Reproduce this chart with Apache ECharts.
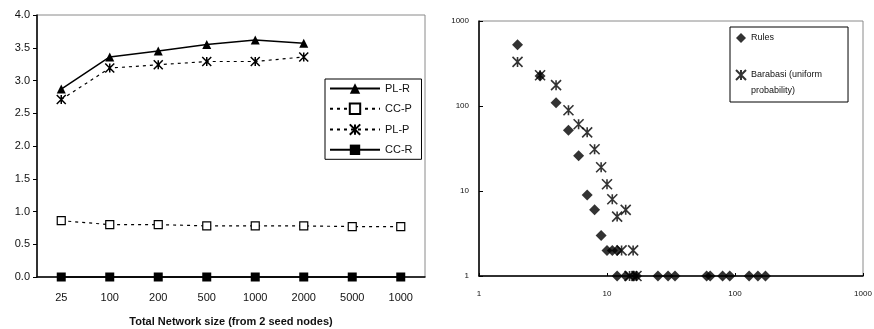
<!DOCTYPE html>
<html><head><meta charset="utf-8">
<script src="https://cdn.jsdelivr.net/npm/echarts@6/dist/echarts.min.js"></script>
<style>html,body{margin:0;padding:0;background:#fff}#c{width:874px;height:329px}</style>
</head><body><div id="c"></div>
<script>
// Left chart data
const sizeLabels = ['25','100','200','500','1000','2000','5000','1000'];
const plR = [2.87, 3.36, 3.45, 3.55, 3.62, 3.57, null, null];
const ccP = [0.86, 0.80, 0.80, 0.78, 0.78, 0.78, 0.77, 0.77];
const plP = [2.71, 3.19, 3.24, 3.29, 3.29, 3.36, null, null];
const ccR = [0, 0, 0, 0, 0, 0, 0, 0];
const yTicksLeft = [0, 4, 0.5];
// Right chart data (degree, count)
const rulesX = [2, 3, 4, 5, 6, 7, 8, 9, 10, 11, 12, 12, 14, 16, 17, 25, 30, 34, 60, 64, 80, 91, 129, 151, 173];
const rulesY = [527, 226, 109, 52, 26, 9, 6, 3, 2, 2, 2, 1, 1, 1, 1, 1, 1, 1, 1, 1, 1, 1, 1, 1, 1];
const baraX = [2, 3, 4, 5, 6, 7, 8, 9, 10, 11, 12, 14, 13, 16, 15, 17];
const baraY = [330, 230, 176, 89, 61, 49, 31, 19, 12, 8, 5, 6, 2, 2, 1, 1];
const logTicks = ['1','10','100','1000'];

const FONT = "'Liberation Sans', Arial, sans-serif";
const ASTER = 'path://M0,0L10,10M10,0L0,10M5,0L5,10';

const chart = echarts.init(document.getElementById('c'));
chart.setOption({
  animation: false,
  textStyle: {fontFamily: FONT, color: '#111'},
  grid: [
    {left: 37, top: 15, width: 388, height: 262, show: true, borderColor: '#8a8a8a', borderWidth: 1,
     containLabel: false, outerBoundsMode: 'none'},
    {left: 479, top: 21, width: 384, height: 255, show: true, borderColor: '#8a8a8a', borderWidth: 1,
     containLabel: false, outerBoundsMode: 'none'}
  ],
  xAxis: [
    {gridIndex: 0, type: 'category', data: sizeLabels, boundaryGap: true,
     axisLine: {lineStyle: {color: '#000', width: 1.5}},
     axisTick: {inside: true, length: 4, interval: 0, lineStyle: {color: '#000'}},
     axisLabel: {fontSize: 11, margin: 15, color: '#111', interval: 0},
     name: 'Total Network size (from 2 seed nodes)', nameLocation: 'middle', nameGap: 39,
     nameTextStyle: {fontSize: 11, fontWeight: 'bold', color: '#111'}},
    {gridIndex: 1, type: 'log', logBase: 10, min: 1, max: 1000,
     axisLine: {lineStyle: {color: '#000', width: 1.5}},
     axisTick: {inside: true, length: 3, lineStyle: {color: '#000'}},
     minorTick: {show: false}, splitLine: {show: false},
     axisLabel: {fontSize: 8, margin: 14, color: '#111',
       formatter: v => logTicks.includes(String(Math.round(v))) ? String(Math.round(v)) : ''}}
  ],
  yAxis: [
    {gridIndex: 0, type: 'value', min: yTicksLeft[0], max: yTicksLeft[1], interval: yTicksLeft[2],
     axisLine: {show: true, lineStyle: {color: '#000', width: 1.5}},
     axisTick: {show: true, inside: false, length: 4, lineStyle: {color: '#000'}},
     splitLine: {show: false},
     axisLabel: {fontSize: 11, margin: 7, color: '#111', formatter: v => v.toFixed(1)}},
    {gridIndex: 1, type: 'log', logBase: 10, min: 1, max: 1000,
     axisLine: {show: true, lineStyle: {color: '#000', width: 1.5}},
     axisTick: {show: true, inside: true, length: 4, lineStyle: {color: '#000'}},
     splitLine: {show: false},
     axisLabel: {fontSize: 8, margin: 10, color: '#111',
       formatter: v => logTicks.includes(String(Math.round(v))) ? String(Math.round(v)) : ''}}
  ],
  legend: [
    {data: ['PL-R','CC-P','PL-P','CC-R'], orient: 'vertical', left: 325, top: 79,
     itemWidth: 50, itemHeight: 13, itemGap: 8.5, padding: [4, 9, 4, 4],
     borderColor: '#000', borderWidth: 1, backgroundColor: '#fff',
     textStyle: {fontSize: 11, color: '#111', fontFamily: FONT}},
    {data: ['Rules', 'Barabasi (uniform probability)'],
     orient: 'vertical', left: 730, top: 27,
     itemWidth: 10, itemHeight: 10, itemGap: 5, padding: [3, 26, 3, 5],
     borderColor: '#000', borderWidth: 1, backgroundColor: '#fff',
     formatter: n => n === 'Rules' ? n : '\n' + n.replace(' probability', '\nprobability'),
     textStyle: {fontSize: 9, lineHeight: 16, color: '#111', fontFamily: FONT}}
  ],
  series: [
    {name: 'PL-R', type: 'line', xAxisIndex: 0, yAxisIndex: 0, data: plR,
     symbol: 'triangle', symbolSize: 9, lineStyle: {color: '#000', width: 1.5},
     itemStyle: {color: '#000'}},
    {name: 'CC-P', type: 'line', xAxisIndex: 0, yAxisIndex: 0, data: ccP,
     symbol: 'rect', symbolSize: 8, lineStyle: {color: '#000', width: 1.2, type: [3, 4]},
     itemStyle: {color: '#fff', borderColor: '#000', borderWidth: 1.2}},
    {name: 'PL-P', type: 'line', xAxisIndex: 0, yAxisIndex: 0, data: plP,
     symbol: ASTER, symbolSize: 9, lineStyle: {color: '#000', width: 1.2, type: [3, 4]},
     itemStyle: {color: '#fff', borderColor: '#000', borderWidth: 1.5}},
    {name: 'CC-R', type: 'line', xAxisIndex: 0, yAxisIndex: 0, data: ccR,
     symbol: 'rect', symbolSize: 9, lineStyle: {color: '#000', width: 1.5},
     itemStyle: {color: '#000'}, clip: false, z: 5},
    {name: 'Rules', type: 'scatter', xAxisIndex: 1, yAxisIndex: 1,
     data: rulesX.map((x, i) => [x, rulesY[i]]),
     symbol: 'diamond', symbolSize: 11, itemStyle: {color: '#000'}, clip: false},
    {name: 'Barabasi (uniform probability)', type: 'scatter', xAxisIndex: 1, yAxisIndex: 1,
     data: baraX.map((x, i) => [x, baraY[i]]),
     symbol: ASTER, symbolSize: 10, itemStyle: {color: '#fff', borderColor: '#000', borderWidth: 1.6}, clip: false}
  ]
});
</script>
</body></html>
